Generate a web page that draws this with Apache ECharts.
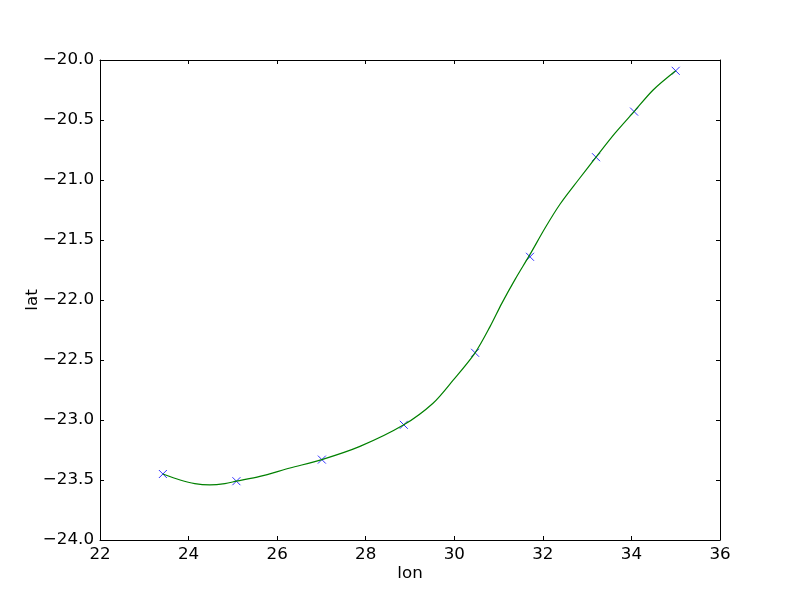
<!DOCTYPE html>
<html>
<head>
<meta charset="utf-8">
<script src="https://cdn.jsdelivr.net/npm/echarts@6/dist/echarts.min.js"></script>
<style>html,body{margin:0;padding:0;background:#fff}#c{width:800px;height:600px}</style>
</head>
<body>
<div id="c"></div>
<script>
// Observed track points (markers)
const pointLon = [23.42, 25.08, 27.01, 28.86, 30.47, 31.71, 33.20, 34.06, 35.00];
const pointLat = [-23.45, -23.51, -23.33, -23.04, -22.44, -21.64, -20.81, -20.43, -20.09];

// Smooth curve, values
const curveLon = [23.42, 23.81, 24.14, 24.48, 24.82, 25.08, 25.61, 26.29, 27.01, 27.87, 28.86, 29.52, 29.97, 30.47, 30.81, 31.07, 31.37, 31.71, 32.05, 32.39, 32.80, 33.20, 33.63, 34.06, 34.49, 35.00];
const curveLat = [-23.45, -23.50, -23.53, -23.54, -23.53, -23.51, -23.47, -23.40, -23.33, -23.22, -23.04, -22.86, -22.67, -22.44, -22.22, -22.03, -21.83, -21.62, -21.40, -21.20, -21.00, -20.81, -20.61, -20.43, -20.25, -20.09];

// Axis settings
const xTicks = [22, 24, 26, 28, 30, 32, 34, 36];
const yTicks = [-24.0, -23.5, -23.0, -22.5, -22.0, -21.5, -21.0, -20.5, -20.0];

const FONT = 'DejaVu Sans';
const fmtY = v => (v < 0 ? '\u2212' : '') + Math.abs(v).toFixed(1);
const fmtX = v => (v < 0 ? '\u2212' : '') + Math.abs(v).toString();

const chart = echarts.init(document.getElementById('c'), null, {renderer: 'canvas'});

const baseAxis = {
  axisLine: {show: true, onZero: false, lineStyle: {color: '#000', width: 1}},
  axisTick: {show: true, inside: true, length: 4, lineStyle: {color: '#000', width: 1}},
  splitLine: {show: false}
};

chart.setOption({
  animation: false,
  backgroundColor: '#ffffff',
  grid: {left: 100, right: 80, top: 60, bottom: 60, containLabel: false},
  xAxis: [
    Object.assign({}, baseAxis, {
      type: 'value', position: 'bottom',
      min: xTicks[0], max: xTicks[xTicks.length - 1], interval: 2,
      name: 'lon', nameLocation: 'middle', nameGap: 25, nameMoveOverlap: false,
      nameTextStyle: {fontFamily: FONT, fontSize: 16.7, color: '#000'},
      axisLabel: {show: true, margin: 6, fontFamily: FONT, fontSize: 16.7, color: '#000', formatter: fmtX}
    }),
    Object.assign({}, baseAxis, {
      type: 'value', position: 'top',
      min: xTicks[0], max: xTicks[xTicks.length - 1], interval: 2,
      axisLabel: {show: false}
    })
  ],
  yAxis: [
    Object.assign({}, baseAxis, {
      type: 'value', position: 'left',
      min: yTicks[0], max: yTicks[yTicks.length - 1], interval: 0.5,
      name: 'lat', nameLocation: 'middle', nameGap: 59, nameMoveOverlap: false,
      nameTextStyle: {fontFamily: FONT, fontSize: 16.7, color: '#000'},
      axisLabel: {show: true, margin: 6, fontFamily: FONT, fontSize: 16.7, color: '#000', formatter: fmtY}
    }),
    Object.assign({}, baseAxis, {
      type: 'value', position: 'right',
      min: yTicks[0], max: yTicks[yTicks.length - 1], interval: 0.5,
      axisLabel: {show: false}
    })
  ],
  series: [
    {
      type: 'scatter',
      xAxisIndex: 0, yAxisIndex: 0,
      data: pointLon.map((x, i) => [x, pointLat[i]]),
      symbol: 'path://M0,0L10,10M10,0L0,10',
      symbolSize: 8,
      itemStyle: {color: '#0000ff', borderColor: '#0000ff', borderWidth: 1},
      z: 2
    },
    {
      type: 'line',
      xAxisIndex: 0, yAxisIndex: 0,
      data: curveLon.map((x, i) => [x, curveLat[i]]),
      smooth: 0.3,
      showSymbol: false,
      symbol: 'none',
      lineStyle: {color: '#008000', width: 1.2},
      z: 3
    }
  ]
});
</script>
</body>
</html>
